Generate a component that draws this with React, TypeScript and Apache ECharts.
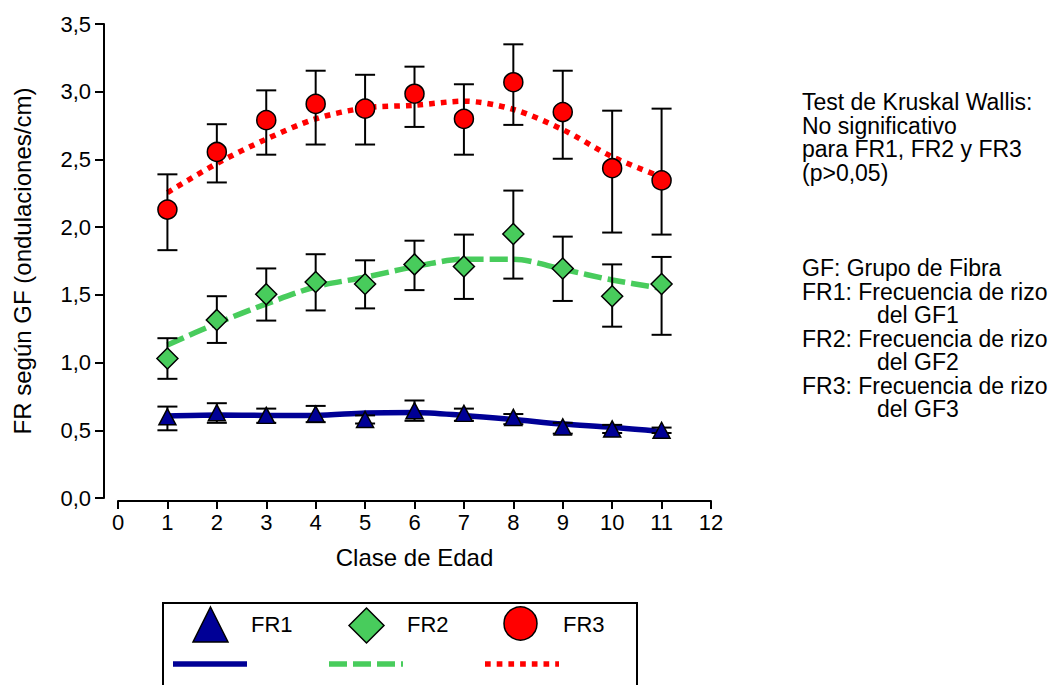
import React, { useEffect, useRef } from "react";
import * as echarts from "echarts";

// ---- data ----
const ages = [1, 2, 3, 4, 5, 6, 7, 8, 9, 10, 11];
const xTicks = [0, 1, 2, 3, 4, 5, 6, 7, 8, 9, 10, 11, 12];
const yTickLabels = ["0,0", "0,5", "1,0", "1,5", "2,0", "2,5", "3,0", "3,5"];

const fr1Mean = [0.6, 0.63, 0.61, 0.62, 0.58, 0.645, 0.625, 0.595, 0.525, 0.51, 0.5];
const fr1Low = [0.5, 0.555, 0.555, 0.56, 0.55, 0.57, 0.57, 0.545, 0.475, 0.48, 0.48];
const fr1High = [0.675, 0.7, 0.66, 0.68, 0.61, 0.72, 0.66, 0.62, 0.555, 0.54, 0.52];
const fr1Trend = [0.605, 0.613, 0.61, 0.61, 0.628, 0.632, 0.61, 0.58, 0.546, 0.522, 0.49];

const fr2Mean = [1.03, 1.315, 1.505, 1.595, 1.58, 1.725, 1.71, 1.95, 1.695, 1.49, 1.58];
const fr2Low = [0.88, 1.145, 1.31, 1.385, 1.4, 1.535, 1.47, 1.62, 1.455, 1.265, 1.205];
const fr2High = [1.18, 1.49, 1.695, 1.8, 1.755, 1.9, 1.945, 2.27, 1.93, 1.725, 1.78];
const fr2Trend = [1.13, 1.29, 1.433, 1.56, 1.63, 1.708, 1.763, 1.763, 1.689, 1.61, 1.549];

const fr3Mean = [2.13, 2.555, 2.79, 2.91, 2.875, 2.985, 2.8, 3.07, 2.85, 2.435, 2.345];
const fr3Low = [1.83, 2.33, 2.535, 2.61, 2.61, 2.74, 2.535, 2.755, 2.505, 1.96, 1.945];
const fr3High = [2.39, 2.76, 3.01, 3.155, 3.125, 3.185, 3.055, 3.35, 3.155, 2.86, 2.875];
const fr3Trend = [2.255, 2.47, 2.65, 2.8, 2.88, 2.9, 2.93, 2.87, 2.72, 2.52, 2.37];

const seriesNames = ["FR1", "FR2", "FR3"];
const noteBlock1 = ["Test de Kruskal Wallis:", "No significativo", "para FR1, FR2 y FR3", "(p>0,05)"];
const noteBlock2 = [
  "GF: Grupo de Fibra",
  "FR1: Frecuencia de rizo",
  "del GF1",
  "FR2: Frecuencia de rizo",
  "del GF2",
  "FR3: Frecuencia de rizo",
  "del GF3",
];

const BLUE = "#000096";
const GREEN = "#48CC5C";
const RED = "#FF0000";
const FONT = "Liberation Sans, Arial, sans-serif";

function errSeries(name: string, low: number[], high: number[]) {
  return {
    type: "custom",
    name,
    z: 3,
    silent: true,
    data: ages.map((a, i) => [a, low[i], high[i]]),
    encode: { x: 0, y: [1, 2] },
    renderItem: (_p: any, api: any) => {
      const x = api.value(0);
      const lo = api.coord([x, api.value(1)]);
      const hi = api.coord([x, api.value(2)]);
      const hw = 10;
      const st = { stroke: "#000", lineWidth: 2 };
      return {
        type: "group",
        children: [
          { type: "line", shape: { x1: lo[0], y1: lo[1], x2: hi[0], y2: hi[1] }, style: st },
          { type: "line", shape: { x1: lo[0] - hw, y1: lo[1], x2: lo[0] + hw, y2: lo[1] }, style: st },
          { type: "line", shape: { x1: hi[0] - hw, y1: hi[1], x2: hi[0] + hw, y2: hi[1] }, style: st },
        ],
      };
    },
  };
}

function trendSeries(name: string, vals: number[], color: string, dash: any) {
  return {
    type: "line",
    name,
    z: 2,
    smooth: 0.3,
    symbol: "none",
    silent: true,
    data: ages.map((a, i) => [a, vals[i]]),
    lineStyle: { color, width: 5.5, type: dash, cap: "butt" },
  };
}

function markerSeries(name: string, vals: number[], symbol: string, size: any, color: string) {
  return {
    type: "scatter",
    name,
    z: 4,
    symbol,
    symbolSize: size,
    data: ages.map((a, i) => [a, vals[i]]),
    itemStyle: { color, borderColor: "#000", borderWidth: 1.5, opacity: 1 },
  };
}

export default function App() {
  const ref = useRef<HTMLDivElement>(null);
  useEffect(() => {
    document.body.style.margin = "0";
    if (!ref.current) return;
    const chart = echarts.init(ref.current, undefined, { renderer: "svg" });

    const graphics: any[] = [];
    noteBlock1.forEach((t, i) => {
      graphics.push({
        type: "text",
        x: 802,
        y: 102 + i * 23.6,
        style: { text: t, font: `23px ${FONT}`, fill: "#000", verticalAlign: "middle", lineHeight: 21 },
      });
    });
    noteBlock2.forEach((t, i) => {
      const indent = t.startsWith("del") ? 75 : 0;
      graphics.push({
        type: "text",
        x: 802 + indent,
        y: 268 + i * 23.5,
        style: { text: t, font: `23px ${FONT}`, fill: "#000", verticalAlign: "middle", lineHeight: 21 },
      });
    });
    // legend box
    graphics.push({
      type: "rect",
      shape: { x: 163, y: 603, width: 474, height: 120 },
      style: { fill: "#fff", stroke: "#000", lineWidth: 2 },
      z: 10,
    });
    graphics.push({
      type: "polygon",
      shape: { points: [[210.5, 607], [228, 642], [193, 642]] },
      style: { fill: BLUE, stroke: "#000", lineWidth: 1.5 },
      z: 11,
    });
    graphics.push({
      type: "polygon",
      shape: { points: [[366.5, 608], [384, 625.5], [366.5, 643], [349, 625.5]] },
      style: { fill: GREEN, stroke: "#000", lineWidth: 1.5 },
      z: 11,
    });
    graphics.push({
      type: "circle",
      shape: { cx: 520.5, cy: 623.5, r: 16.5 },
      style: { fill: RED, stroke: "#000", lineWidth: 1.5 },
      z: 11,
    });
    [251, 407, 563].forEach((x, i) => {
      graphics.push({
        type: "text",
        x,
        y: 624,
        style: { text: seriesNames[i], font: `22px ${FONT}`, fill: "#000", verticalAlign: "middle", letterSpacing: -1.5 },
        z: 11,
      });
    });
    graphics.push({
      type: "line",
      shape: { x1: 173, y1: 664, x2: 247, y2: 664 },
      style: { stroke: BLUE, lineWidth: 5.7 },
      z: 11,
    });
    graphics.push({
      type: "line",
      shape: { x1: 329, y1: 664, x2: 403, y2: 664 },
      style: { stroke: GREEN, lineWidth: 5.7, lineDash: [18, 6] },
      z: 11,
    });
    graphics.push({
      type: "line",
      shape: { x1: 485, y1: 664, x2: 559, y2: 664 },
      style: { stroke: RED, lineWidth: 5.7, lineDash: [5.7, 6] },
      z: 11,
    });

    chart.setOption({
      animation: false,
      backgroundColor: "#fff",
      grid: { left: 118, right: 349, top: 24, bottom: 187, containLabel: false },
      xAxis: {
        type: "value",
        min: 0,
        max: 12,
        interval: 1,
        offset: 3,
        name: "Clase de Edad",
        nameLocation: "middle",
        nameGap: 44,
        nameTextStyle: { fontFamily: FONT, fontSize: 24, color: "#000" },
        axisLine: { show: true, onZero: false, lineStyle: { color: "#000", width: 2 } },
        axisTick: { show: true, length: 8, lineStyle: { color: "#000", width: 2 } },
        axisLabel: {
          fontFamily: FONT,
          fontSize: 22,
          color: "#000",
          margin: 10,
          formatter: (v: number) => String(xTicks[Math.round(v)]),
        },
        splitLine: { show: false },
      },
      yAxis: {
        type: "value",
        min: 0,
        max: 3.5,
        interval: 0.5,
        offset: 14,
        name: "FR según GF (ondulaciones/cm)",
        nameLocation: "middle",
        nameGap: 70,
        nameTextStyle: { fontFamily: FONT, fontSize: 24, color: "#000" },
        axisLine: { show: true, onZero: false, lineStyle: { color: "#000", width: 2 } },
        axisTick: { show: true, length: 9, lineStyle: { color: "#000", width: 2 } },
        axisLabel: {
          fontFamily: FONT,
          fontSize: 22,
          color: "#000",
          margin: 13,
          formatter: (v: number) => yTickLabels[Math.round(v / 0.5)],
        },
        splitLine: { show: false },
      },
      series: [
        trendSeries("FR1 ajuste", fr1Trend, BLUE, "solid"),
        trendSeries("FR2 ajuste", fr2Trend, GREEN, [18, 6]),
        trendSeries("FR3 ajuste", fr3Trend, RED, [5.7, 6]),
        errSeries("FR1 error", fr1Low, fr1High),
        errSeries("FR2 error", fr2Low, fr2High),
        errSeries("FR3 error", fr3Low, fr3High),
        markerSeries("FR1", fr1Mean, "triangle", [17, 16], BLUE),
        markerSeries("FR2", fr2Mean, "diamond", [21, 21], GREEN),
        markerSeries("FR3", fr3Mean, "circle", 19, RED),
      ],
      graphic: graphics,
    });
    return () => chart.dispose();
  }, []);
  return <div ref={ref} style={{ width: 1060, height: 685 }} />;
}
